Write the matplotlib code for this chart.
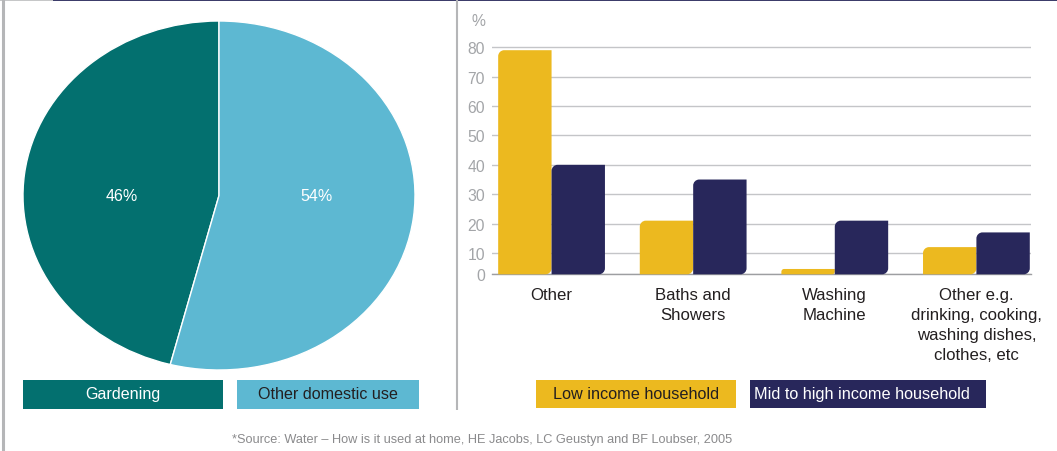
import numpy as np
import matplotlib
matplotlib.use("Agg")
import matplotlib.pyplot as plt
from matplotlib.patches import Rectangle, PathPatch
from matplotlib.path import Path
from matplotlib.lines import Line2D

# ---------------- data ----------------
pie_labels = ["Gardening", "Other domestic use"]
pie_values = [46, 54]
pie_colors = ["#03706F", "#5DB8D2"]
pie_text_colors = ["white", "#231F20"]

categories = ["Other", "Baths and\nShowers", "Washing\nMachine",
              "Other e.g.\ndrinking, cooking,\nwashing dishes,\nclothes, etc"]
low_income = [79, 21, 2.5, 12]
mid_high_income = [40, 35, 21, 17]
series_names = ["Low income household", "Mid to high income household"]
series_colors = ["#ECB91F", "#28275B"]
series_text_colors = ["#231F20", "white"]
y_ticks = [0, 10, 20, 30, 40, 50, 60, 70, 80]
source_text = ("*Source: Water \u2013 How is it used at home, HE Jacobs, "
               "LC Geustyn and BF Loubser, 2005")

# ---------------- setup ----------------
W, H = 1057, 452
plt.rcParams['font.family'] = ['Liberation Sans', 'DejaVu Sans']
fig = plt.figure(figsize=(W / 100, H / 100), dpi=100)
fig.patch.set_facecolor("white")


def fx(px):
    return px / W


def fy(py):
    return 1 - py / H


GRAY_TXT = "#A3A5A8"
DARK_TXT = "#231F20"

# ---------------- pie ----------------
axp = fig.add_axes([fx(23), fy(371), (415 - 23) / W, (371 - 22) / H])
wedges, texts, autotexts = axp.pie(
    pie_values, colors=pie_colors, startangle=90, counterclock=True,
    autopct=lambda p: f"{p:.0f}%", pctdistance=0.5,
    wedgeprops=dict(edgecolor="white", linewidth=1.0),
    textprops=dict(color="white", fontsize=11.5))
axp.set_aspect("auto")
axp.set_xlim(-1, 1)
axp.set_ylim(-1, 1)
axp.axis("off")
for t in autotexts:
    t.set_y(0.0)

# ---------------- bars ----------------
k = 0.725  # compressed first interval, as in the original axis


def fwd(v):
    v = np.asarray(v, dtype=float)
    return np.where(v < 10, v * k, v - 10 + 10 * k)


def inv(u):
    u = np.asarray(u, dtype=float)
    return np.where(u < 10 * k, u / k, u + 10 - 10 * k)


y_top = 81
px_per_unit = 2.939
ax_h = float(fwd(y_top)) * px_per_unit
base_px = 275.3
axb = fig.add_axes([fx(491.8), fy(base_px), (1030.5 - 491.8) / W, ax_h / H])
axb.set_yscale("function", functions=(fwd, inv))
axb.set_ylim(0, y_top)
x = np.arange(len(categories))
bw = 0.377
axb.set_xlim(-0.422, 3.382)
bars1 = axb.bar(x - bw / 2, low_income, bw, color=series_colors[0])
bars2 = axb.bar(x + bw / 2, mid_high_income, bw, color=series_colors[1])

axb.set_yticks(y_ticks)
axb.set_yticklabels([str(v) for v in y_ticks])
axb.set_xticks(x)
axb.set_xticklabels(categories, color=DARK_TXT, fontsize=12.1, linespacing=1.42)
axb.tick_params(axis="y", length=0, pad=4.9, labelcolor=GRAY_TXT, labelsize=11.3)
axb.tick_params(axis="x", length=0, pad=9.2)
axb.yaxis.grid(True, color="#C4C5C8", linewidth=1.0)
axb.xaxis.grid(False)
axb.set_axisbelow(True)
for s in ["top", "left", "right"]:
    axb.spines[s].set_visible(False)
axb.spines["bottom"].set_color("#9D9EA1")
axb.spines["bottom"].set_linewidth(1.0)
axb.patch.set_alpha(0)

fig.text(fx(478), fy(22), "%", ha="center", va="center", color=GRAY_TXT, fontsize=11.3)

# rounded "leaf" bars (top-left and bottom-right corners rounded)
figw, figh = fig.bbox.width, fig.bbox.height


def leaf(x0, y0, x1, y1, r):
    r = min(r, (x1 - x0) / 2, (y1 - y0) / 2)
    c = 0.5523 * r
    verts = [
        (x0, y0), (x1 - r, y0),
        (x1 - r + c, y0), (x1, y0 + r - c), (x1, y0 + r),
        (x1, y1), (x0 + r, y1),
        (x0 + r - c, y1), (x0, y1 - r + c), (x0, y1 - r),
        (x0, y0),
    ]
    codes = [Path.MOVETO, Path.LINETO,
             Path.CURVE4, Path.CURVE4, Path.CURVE4,
             Path.LINETO, Path.LINETO,
             Path.CURVE4, Path.CURVE4, Path.CURVE4,
             Path.CLOSEPOLY]
    verts = [(vx / figw, vy / figh) for vx, vy in verts]
    return Path(verts, codes)


for rect in list(bars1) + list(bars2):
    bb = rect.get_window_extent()
    p = PathPatch(leaf(bb.x0, bb.y0, bb.x1, bb.y1, 6), facecolor=rect.get_facecolor(),
                  edgecolor="none", transform=fig.transFigure, zorder=3)
    fig.add_artist(p)
    rect.set_visible(False)

# ---------------- legends ----------------
def legend_box(x0, x1, y0, y1, color, label, tcolor, fs, ha="center", tx=None):
    fig.add_artist(Rectangle((fx(x0), fy(y1)), (x1 - x0) / W, (y1 - y0) / H,
                             facecolor=color, edgecolor="none", transform=fig.transFigure))
    if tx is None:
        tx = (x0 + x1) / 2
    fig.text(fx(tx), fy((y0 + y1) / 2 - 1), label, ha=ha, va="center",
             color=tcolor, fontsize=fs)


legend_box(23, 223, 381, 409.7, pie_colors[0], pie_labels[0], pie_text_colors[0], 11.6)
legend_box(237, 419, 381, 409.7, pie_colors[1], pie_labels[1], pie_text_colors[1], 11.6)
legend_box(536, 735.6, 381, 409.3, series_colors[0], series_names[0], series_text_colors[0], 11.7)
legend_box(750, 986, 381, 409.3, series_colors[1], series_names[1], series_text_colors[1], 11.7,
           ha="left", tx=753.8)

# ---------------- frame lines ----------------
def fline(xs, ys, color, lw):
    fig.add_artist(Line2D([fx(v) for v in xs], [fy(v) for v in ys], color=color,
                          linewidth=lw, transform=fig.transFigure, solid_capstyle="butt"))


fline([3.3, 3.3], [0, 452], "#B5B6B8", 2.2)
fline([0, 53], [0.6, 0.6], "#B5B6B8", 1.1)
fline([53, 1057], [0.6, 0.6], "#28275B", 1.3)
fline([457, 457], [0, 410.7], "#B5B6B8", 1.5)

fig.text(fx(232), fy(440), source_text, ha="left", va="center", color="#8A8A8C", fontsize=9.2)

fig.savefig("out.png", dpi=100, facecolor="white")
